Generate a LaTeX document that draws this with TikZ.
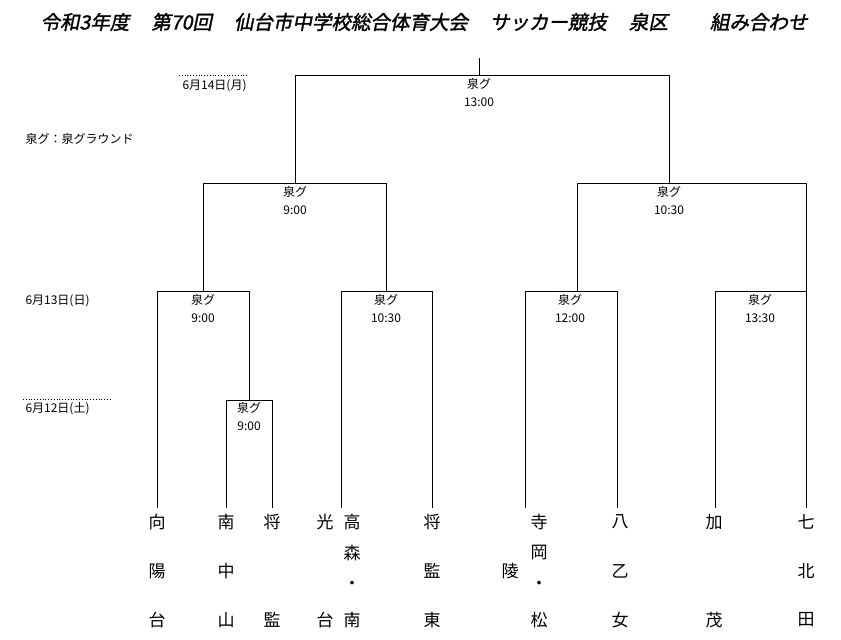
\documentclass[tikz,border=0pt]{standalone}
\usepackage{fontspec}
\setmainfont{Noto Sans CJK JP}
\newfontfamily\ttlfont[FakeSlant=0.2,FakeBold=1.5]{Noto Sans CJK JP}
\begin{document}
\begin{tikzpicture}[x=1pt,y=-1pt,line width=1pt,
  lbl/.style={font=\fontsize{12}{14}\selectfont,inner sep=0pt},
  tm/.style={font=\fontsize{17}{19}\selectfont,inner sep=0pt},
  dotl/.style={dotted,line width=0.8pt}]
\useasboundingbox (0,0) rectangle (841,640);
\node[inner sep=0pt,font=\fontsize{19.5}{21}\ttlfont] (title) at (424,22) {令和3年度\hspace{22pt}第70回\hspace{22pt}仙台市中学校総合体育大会\hspace{22pt}サッカー競技\hspace{22pt}泉区\hspace{42pt}組み合わせ};
% dates
\node[lbl,anchor=west] (d14) at (182,86) {6月14日(月)};
\draw[dotl] (179,75) -- (248,75);
\node[lbl,anchor=west] (legend) at (25,139) {泉グ：泉グラウンド};
\node[lbl,anchor=west] (d13) at (25,301) {6月13日(日)};
\node[lbl,anchor=west] (d12) at (25,409) {6月12日(土)};
\draw[dotl] (23,399) -- (110,399);
% brackets
\draw (479,58) -- (479,75);
\draw (295,183) -- (295,75) -- (669,75) -- (669,183);
\draw (203,291) -- (203,183) -- (386,183) -- (386,291);
\draw (577,291) -- (577,183) -- (806,183) -- (806,508);
\draw (157,508) -- (157,291) -- (249,291) -- (249,400);
\draw (226,508) -- (226,400) -- (272,400) -- (272,508);
\draw (341,508) -- (341,291) -- (432,291) -- (432,508);
\draw (525,508) -- (525,291) -- (617,291) -- (617,508);
\draw (715,508) -- (715,291) -- (806,291);
% match labels
\foreach \n/\x/\y/\t in {m1/479/84/13:00, m2/295/192/9:00, m3/669/192/10:30, m4/203/300/9:00, m5/386/300/10:30, m6/570/300/12:00, m7/760/300/13:30, m8/249/408/9:00}{
  \node[lbl] (\n a) at (\x,\y) {泉グ};
  \node[lbl] (\n b) at (\x,\y+18) {\t};
}
% teams
\foreach \n/\x/\a/\b/\c in {t1/157/向/陽/台, t2/226/南/中/山, t3/272/将//監, t4/325/光//台, t6/432/将/監/東, t8/620/八/乙/女, t9/714/加//茂, t10/806/七/北/田}{
  \node[tm] (\n a) at (\x,522) {\a};
  \node[tm] (\n b) at (\x,571) {\b};
  \node[tm] (\n c) at (\x,620) {\c};
}
\foreach \n/\x/\a/\b/\c in {t5/352/高/森/南, t7/539/寺/岡/松}{
  \node[tm] (\n a) at (\x,522) {\a};
  \node[tm] (\n b) at (\x,553) {\b};
  \node[tm] (\n d) at (\x,585) {・};
  \node[tm] (\n c) at (\x,620) {\c};
}
\node[tm] (t7x) at (510,571) {陵};
\end{tikzpicture}
\end{document}
